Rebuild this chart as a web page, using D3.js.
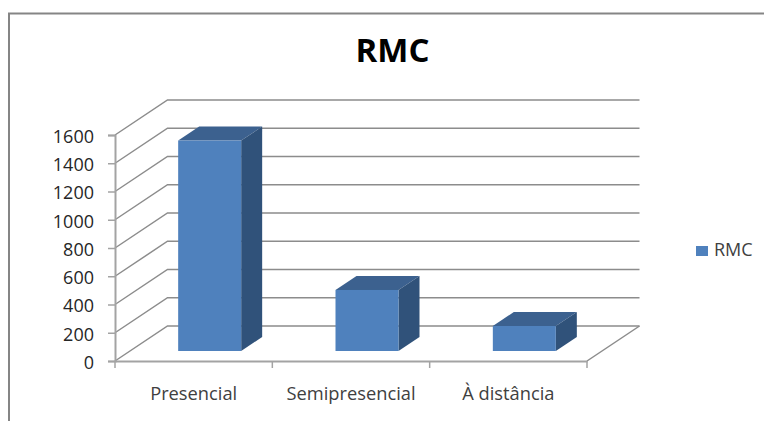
<!DOCTYPE html>
<html><head><meta charset="utf-8">
<script src="https://cdn.jsdelivr.net/npm/d3@7"></script>
<style>html,body{margin:0;padding:0;background:#fff}svg{display:block}text{font-family:"Open Sans",sans-serif}</style>
</head><body><svg id="c" width="764" height="421"></svg>
<script>
const categories = ["Presencial","Semipresencial","À distância"];
const values = [1490,432,177];
const yTicks = [0,200,400,600,800,1000,1200,1400,1600];
const seriesName = "RMC";
const chartTitle = "RMC";

const svg = d3.select("#c");
const W = 764, H = 421;
const grid = "#8c8c8c", axisCol = "#a3a3a3", textCol = "#404040";
const dx = 52.5, dy = -35;           // floor depth
const bdx = 21, bdy = -14;           // bar depth
const bgy = -10;                     // bar offset from the front of the floor

svg.append("path").attr("d",`M9,${H}V13.5H${W}`).attr("fill","none").attr("stroke","#858585").attr("stroke-width",2);

const x = d3.scaleBand().domain(categories).range([115,587]).paddingInner(0).paddingOuter(0);
const y = d3.scaleLinear().domain([0,1600]).range([361,135]);

const g = svg.append("g");
// walls
yTicks.forEach(t=>{
  g.append("path").attr("d",`M${x.range()[0]},${y(t)}l${dx},${dy}H${587+dx}`)
   .attr("fill","none").attr("stroke",grid).attr("stroke-width",1.5);
});
g.append("path").attr("d",`M587,361l${dx},${dy}`).attr("fill","none").attr("stroke",grid).attr("stroke-width",1.5);

// axes
const ay = d3.axisLeft(y).tickValues(yTicks).tickSize(7).tickPadding(14).tickFormat(d3.format("d"));
const gy = g.append("g").attr("transform","translate(115,0)").call(ay);
const ax = d3.axisBottom(x).tickSize(0).tickPadding(26);
const gx = g.append("g").attr("transform","translate(0,361)").call(ax);
gx.selectAll(".tick line").remove();
[...categories.map(c=>x(c)),x(categories[2])+x.bandwidth()].forEach(px=>{
  gx.append("line").attr("x1",px).attr("x2",px).attr("y1",0).attr("y2",7).attr("stroke",axisCol).attr("stroke-width",1.5);
});
g.selectAll(".domain").attr("stroke",axisCol).attr("stroke-width",2);
gy.selectAll("line").attr("stroke",axisCol).attr("stroke-width",1.5);
gy.selectAll("text").attr("font-size",18).attr("fill","#262626").attr("y",1.5);
gx.selectAll("text").attr("font-size",18.3).attr("fill",textCol);

// bars
const bw = 63;
const bars = g.selectAll("g.bar").data(categories.map((c,i)=>({c,v:values[i]}))).join("g").attr("class","bar");
bars.each(function(d){
  const s = d3.select(this);
  const x0 = x(d.c)+x.bandwidth()/2+16-bw/2, base = y(0)+bgy, top = base-(y(0)-y(d.v));
  s.append("path").attr("d",`M${x0},${top}l${bdx},${bdy}h${bw}l${-bdx},${-bdy}z`).attr("fill","#3c618f");
  s.append("path").attr("d",`M${x0+bw},${top}l${bdx},${bdy}V${base+bdy}l${-bdx},${-bdy}z`).attr("fill","#30527a");
  s.append("rect").attr("x",x0).attr("y",top).attr("width",bw).attr("height",base-top).attr("fill","#4f81bd");
});

svg.append("text").attr("x",392.5).attr("y",62).attr("text-anchor","middle")
  .attr("font-size",33).attr("font-weight",700).attr("fill","#000").text(chartTitle);
svg.append("rect").attr("x",696).attr("y",246).attr("width",12).attr("height",10).attr("fill","#4f81bd");
svg.append("text").attr("x",714).attr("y",256).attr("font-size",18).attr("fill",textCol).text(seriesName);
</script></body></html>
